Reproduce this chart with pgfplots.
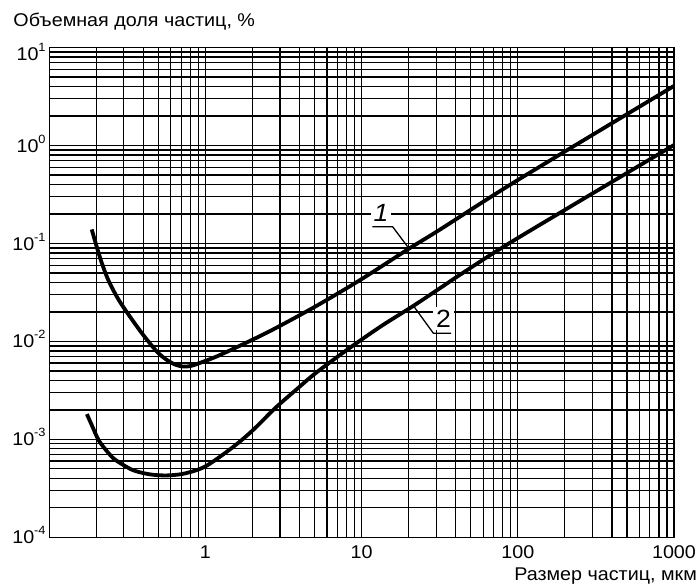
\documentclass[border=0pt]{standalone}
\usepackage{fontspec}
\setmainfont{Liberation Sans}[FakeStretch=1.07]
\usepackage{pgfplots}
\pgfplotsset{compat=1.18}
\newcommand{\tl}[1]{10\raisebox{9bp}{\fontsize{12}{12}\selectfont #1}}
\pgfplotstableread{
x y
0.187 0.139
0.201 0.093
0.217 0.063
0.239 0.042
0.271 0.0285
0.307 0.0209
0.392 0.0121
0.501 0.00755
0.611 0.00600
0.708 0.00555
0.80 0.00560
0.906 0.00597
1.2 0.0071
1.9 0.0100
2.8 0.0136
5.08 0.0228
9.8 0.0424
20 0.088
31.4 0.137
100 0.444
1000 4.05
}\curveone
\pgfplotstableread{
x y
0.174 0.00181
0.187 0.00140
0.207 0.00098
0.235 0.00075
0.264 0.00062
0.338 0.00049
0.42 0.000445
0.501 0.00043
0.6 0.00043
0.744 0.00045
1.0 0.00053
1.48 0.00082
1.99 0.00122
2.81 0.0021
3.8 0.0032
5.08 0.00475
8.32 0.0085
13.6 0.0146
22.3 0.0240
46.6 0.0525
100 0.1135
1000 1.01
}\curvetwo
\begin{document}
\fontsize{18.5}{22}\selectfont
\begin{tikzpicture}
\path[use as bounding box] (-49.3bp,-47.7bp) rectangle (648.7bp,537.3bp);
\begin{axis}[
  at={(0,0)}, anchor=south west, scale only axis,
  width=624.7bp, height=489.8bp,
  xmode=log, ymode=log,
  xmin=0.1, xmax=1000, ymin=1e-4, ymax=10,
  xtick={0.1,1,10,100,1000}, xticklabels={,1,10,100,1000},
  ytick={1e-4,1e-3,1e-2,1e-1,1,10},
  yticklabels={\tl{-4},\tl{-3},\tl{-2},\tl{-1},\tl{0},\raisebox{-6bp}{\tl{1}}},
  minor xtick={0.2,0.3,0.4,0.5,0.6,0.7,0.8,0.9,2,3,4,5,6,7,8,9,20,30,40,50,60,70,80,90,200,300,400,500,600,700,800,900},
  minor ytick={2e-4,3e-4,4e-4,5e-4,6e-4,7e-4,8e-4,9e-4,2e-3,3e-3,4e-3,5e-3,6e-3,7e-3,8e-3,9e-3,0.02,0.03,0.04,0.05,0.06,0.07,0.08,0.09,0.2,0.3,0.4,0.5,0.6,0.7,0.8,0.9,2,3,4,5,6,7,8,9},
  grid=both,
  major grid style={black, line width=1.3bp},
  minor grid style={black, line width=1.3bp},
  major tick length=0pt, minor tick length=0pt,
  axis line style={line width=1.4bp},
  tick label style={font=\fontsize{18.5}{22}\selectfont},
  xticklabel style={anchor=north, inner sep=0pt, yshift=-8.5bp},
  yticklabel style={anchor=base east, inner sep=0pt, xshift=-3.5bp, yshift=-6.6bp},
]
\addplot[black, line width=3.8bp, smooth] table[x=x,y=y] {\curveone};
\addplot[black, line width=3.8bp, smooth] table[x=x,y=y] {\curvetwo};
\draw[black, line width=1.3bp] (axis cs:11.7,0.148) -- (axis cs:15.8,0.148) -- (axis cs:19.7,0.0926);
\draw[black, line width=1.3bp] (axis cs:37.4,0.0121) -- (axis cs:28.8,0.0121) -- (axis cs:21.4,0.0232);
\node[fill=white, inner sep=3bp, font=\fontsize{25}{25}\selectfont\itshape] at (axis cs:13.3,0.205) {1};
\node[fill=white, inner sep=3bp, font=\fontsize{25}{25}\selectfont] at (axis cs:33.5,0.0172) {2};
\end{axis}
\node[anchor=base west, inner sep=0pt] at (-36bp,510.6bp) {Объемная доля частиц, \%};
\node[anchor=base east, inner sep=0pt] at (647.7bp,-42.7bp) {Размер частиц, мкм};
\end{tikzpicture}
\end{document}
